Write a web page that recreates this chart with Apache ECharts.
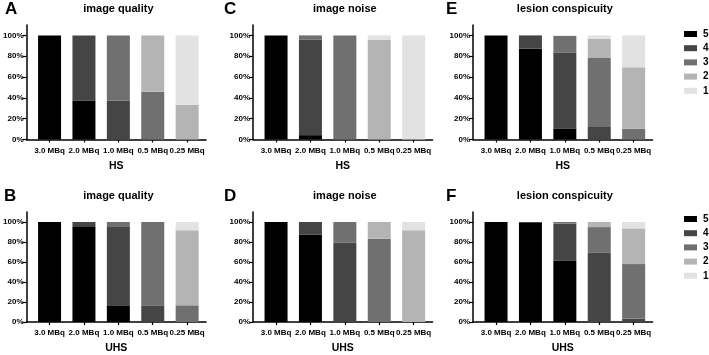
<!DOCTYPE html>
<html>
<head>
<meta charset="utf-8">
<script src="https://cdn.jsdelivr.net/npm/echarts@6/dist/echarts.min.js"></script>
<style>
  html, body { margin: 0; padding: 0; background: #fff; }
  #chart { width: 709px; height: 355px; }
</style>
</head>
<body>
<div id="chart"></div>
<script>
  const doses = ['3.0 MBq', '2.0 MBq', '1.0 MBq', '0.5 MBq', '0.25 MBq']
  const scores = ['5', '4', '3', '2', '1']
  const yTicks = [0, 20, 40, 60, 80, 100]

  // rows = score 5, 4, 3, 2, 1 ; columns = doses (percent of ratings)
  const hsQuality = [
    [100, 37.5, 0, 0, 0],
    [0, 62.5, 37.5, 0, 0],
    [0, 0, 62.5, 45.8, 0],
    [0, 0, 0, 54.2, 33.3],
    [0, 0, 0, 0, 66.7]
  ]
  const hsNoise = [
    [100, 4.2, 0, 0, 0],
    [0, 91.6, 0, 0, 0],
    [0, 4.2, 100, 0, 0],
    [0, 0, 0, 95.8, 0],
    [0, 0, 0, 4.2, 100]
  ]
  const hsLesion = [
    [100, 87.5, 10.7, 0, 0],
    [0, 12.5, 72.5, 12.1, 0],
    [0, 0, 16.3, 66.2, 10.5],
    [0, 0, 0, 18.5, 58.8],
    [0, 0, 0.5, 3.2, 30.7]
  ]
  const uhsQuality = [
    [100, 95.8, 16.7, 0, 0],
    [0, 4.2, 79.1, 16.7, 0],
    [0, 0, 4.2, 83.3, 16.7],
    [0, 0, 0, 0, 75],
    [0, 0, 0, 0, 8.3]
  ]
  const uhsNoise = [
    [100, 87.5, 0, 0, 0],
    [0, 12.5, 79.2, 0, 0],
    [0, 0, 20.8, 83.3, 0],
    [0, 0, 0, 16.7, 91.7],
    [0, 0, 0, 0, 8.3]
  ]
  const uhsLesion = [
    [100, 99, 61.1, 0, 0],
    [0, 1, 37.3, 69.1, 3.2],
    [0, 0, 1.6, 25.8, 54.7],
    [0, 0, 0, 5.1, 35.7],
    [0, 0, 0, 0, 6.4]
  ]

  const colors = ['#000000', '#454545', '#707070', '#b4b4b4', '#e2e2e2']
  const font = 'Liberation Sans, Arial, sans-serif'

  const panels = [
    { letter: 'A', title: 'image quality', system: 'HS', rows: hsQuality, left: 26.5, top: 25, letterX: 5 },
    { letter: 'C', title: 'image noise', system: 'HS', rows: hsNoise, left: 253, top: 25, letterX: 224 },
    { letter: 'E', title: 'lesion conspicuity', system: 'HS', rows: hsLesion, left: 473, top: 25, letterX: 446 },
    { letter: 'B', title: 'image quality', system: 'UHS', rows: uhsQuality, left: 26.5, top: 212, letterX: 4 },
    { letter: 'D', title: 'image noise', system: 'UHS', rows: uhsNoise, left: 253, top: 212, letterX: 224 },
    { letter: 'F', title: 'lesion conspicuity', system: 'UHS', rows: uhsLesion, left: 473, top: 212, letterX: 446 }
  ]

  const xMin = -0.67
  const xMax = 4.55
  const step = 34.4 // px per category
  const gridW = (xMax - xMin) * step

  const grids = []
  const xAxes = []
  const yAxes = []
  const titles = []
  const series = []

  panels.forEach((p, idx) => {
    grids.push({ left: p.left, top: p.top, width: gridW, height: 114.5 })
    xAxes.push({
      gridIndex: idx,
      type: 'value',
      min: xMin,
      max: xMax,
      name: p.system,
      nameLocation: 'middle',
      nameGap: 21,
      nameTextStyle: { color: '#000', fontWeight: 'bold', fontSize: 10.5, fontFamily: font },
      splitLine: { show: false },
      axisLine: { show: true, onZero: false, lineStyle: { color: '#000', width: 1.5 } },
      axisTick: { show: true, customValues: [0, 1, 2, 3, 4], length: 3, lineStyle: { color: '#000', width: 1.2 } },
      axisLabel: {
        customValues: [0, 1, 2, 3, 4],
        formatter: (v) => doses[v],
        color: '#000', fontWeight: 'bold', fontSize: 8, fontFamily: font, margin: 7
      }
    })
    yAxes.push({
      gridIndex: idx,
      type: 'value',
      min: 0,
      max: 110,
      splitLine: { show: false },
      axisLine: { show: true, onZero: false, lineStyle: { color: '#000', width: 1.5 } },
      axisTick: { show: true, customValues: yTicks, length: 4, lineStyle: { color: '#000', width: 1.2 } },
      axisLabel: {
        customValues: yTicks,
        formatter: '{value}%',
        color: '#000', fontWeight: 'bold', fontSize: 8, fontFamily: font, margin: 3
      }
    })
    const cx = p.left + (2 - xMin) * step
    titles.push({
      text: p.title,
      left: cx,
      top: p.top - 22,
      padding: 0,
      textAlign: 'center',
      textStyle: { color: '#000', fontWeight: 'bold', fontSize: 11, fontFamily: font }
    })
    titles.push({
      text: p.letter,
      left: p.letterX,
      top: p.top - 24,
      padding: 0,
      textStyle: { color: '#000', fontWeight: 'bold', fontSize: 17, fontFamily: font }
    })
    p.rows.forEach((row, k) => {
      series.push({
        name: scores[k],
        type: 'bar',
        xAxisIndex: idx,
        yAxisIndex: idx,
        stack: 'panel' + idx,
        barWidth: 23,
        itemStyle: { color: colors[k] },
        // value first so that the stack runs along y
        encode: { x: 1, y: 0 },
        data: row.map((v, i) => [v, i])
      })
    })
  })

  const legendBase = {
    orient: 'vertical',
    left: 679,
    icon: 'rect',
    itemWidth: 13,
    itemHeight: 6,
    itemGap: 2.2,
    data: scores,
    textStyle: { color: '#000', fontSize: 10, fontWeight: 'bold', fontFamily: font, lineHeight: 12, padding: [0, 0, 0, 1] }
  }

  const chart = echarts.init(document.getElementById('chart'))
  chart.setOption({
    animation: false,
    backgroundColor: '#fff',
    title: titles,
    legend: [
      Object.assign({}, legendBase, { top: 23 }),
      Object.assign({}, legendBase, { top: 208 })
    ],
    grid: grids,
    xAxis: xAxes,
    yAxis: yAxes,
    series: series
  })
</script>
</body>
</html>
